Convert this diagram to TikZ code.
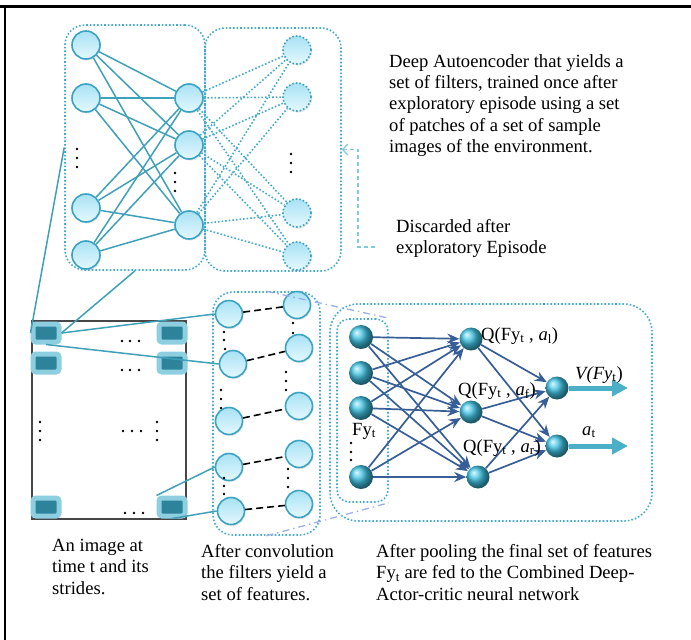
\documentclass[tikz,border=0pt]{standalone}
\usepackage{fontspec}
\setmainfont{Liberation Serif}
\usepackage{tikz}
\usetikzlibrary{positioning}
\usetikzlibrary{arrows.meta}
\usetikzlibrary{shadows}

\definecolor{netline}{HTML}{3FA0BA}
\definecolor{boxdot}{HTML}{45ABCD}
\definecolor{nodeedge}{HTML}{3AA3C2}
\definecolor{nodetop}{HTML}{A8E2F4}
\definecolor{nodebot}{HTML}{E4F8FE}
\definecolor{patchout}{HTML}{8DCFE1}
\definecolor{patchin}{HTML}{2D8399}
\definecolor{ballc}{HTML}{40C4E4}
\definecolor{acline}{HTML}{375E97}
\definecolor{outarrow}{HTML}{4BAFC8}
\definecolor{persp}{HTML}{9AAEEA}
\definecolor{discline}{HTML}{80C9DE}

\tikzset{
  neuron/.style={draw=nodeedge, circle, line width=1.6pt, top color=nodetop, bottom color=nodebot,
    minimum size=28pt, inner sep=0pt, drop shadow={opacity=0.2, shadow xshift=1pt, shadow yshift=-1.5pt}},
  ghost/.style={neuron, dotted},
  featnode/.style={neuron, minimum size=27pt},
  ball/.style={circle, shading=ball, ball color=ballc, minimum size=24pt, inner sep=0pt},
  patch/.style={draw=patchout, line width=5pt, fill=patchin, rounded corners=3pt,
    minimum width=26pt, minimum height=18pt, inner sep=0pt},
  dotbox/.style={draw=boxdot, dotted, line width=1.6pt, rounded corners=20pt, inner sep=0pt},
  encedge/.style={draw=netline, line width=1.5pt},
  encdot/.style={draw=boxdot, dotted, line width=1.6pt},
  acedge/.style={draw=acline, line width=1.7pt, -{Stealth[length=12pt, width=10pt]}},
  txt/.style={font=\fontsize{18.6}{21.4}\selectfont, inner sep=0pt, align=left}
}

\begin{document}
\begin{tikzpicture}[x=1pt, y=-1pt]
		\useasboundingbox (0,0) rectangle (691,640);
		\draw[line width=3pt] (0,6) -- (691,6);
		\draw[line width=2.5pt] (5,6) -- (5,640);

		% autoencoder
		\node[dotbox, minimum width=140pt, minimum height=245pt] (encL) at (135,147.5) {};
		\node[dotbox, minimum width=136pt, minimum height=243pt] (encR) at (273,149.5) {};

		\node[neuron] (x1) at (86, 45) {};
		\node[neuron] (x2) at (86, 98) {};
		\node[neuron] (x3) at (86, 208) {};
		\node[neuron] (x4) at (86, 255) {};
		\node[neuron] (h1) at (189, 98) {};
		\node[neuron] (h2) at (189, 145) {};
		\node[neuron] (h3) at (189, 225) {};
		\node[ghost] (y1) at (297, 50) {};
		\node[ghost] (y2) at (297, 97) {};
		\node[ghost] (y3) at (297, 213) {};
		\node[ghost] (y4) at (297, 256) {};

		\foreach \i in {1,...,4}
			\foreach \j in {1,2,3}
				\path[encedge] (x\i) -- (h\j);
		\foreach \i in {1,2,3}
			\foreach \j in {1,...,4}
				\path[encdot] (h\i) -- (y\j);

		\foreach \x/\y in {77/149, 77/158, 77/167, 175/173, 175/182, 175/191, 291/154, 291/163, 291/172}
			\fill (\x,\y) circle (1.4pt);

		\node[txt, anchor=north west] (enctext) at (389, 54) {Deep Autoencoder that yields a\\ set of filters, trained once after\\ exploratory episode using a set\\ of patches of a set of sample\\ images of the environment.};
		\node[txt, anchor=north west] (disctext) at (396, 219) {Discarded after\\ exploratory Episode};
		\coordinate (dA) at (375, 247);
		\path[draw=discline, line width=1.3pt, dash pattern=on 4pt off 3pt, -{Straight Barb[length=5pt, width=11pt]}]
			(dA) -- ++(-17,0) |- (encR.east);

		% image and strides
		\node[draw=black!72, line width=2.5pt, minimum width=154pt, minimum height=198pt, inner sep=0pt] (img) at (109,420) {};
		\node[patch] (p11) at (46, 333) {};
		\node[patch] (p12) at (172, 333) {};
		\node[patch] (p21) at (46, 363) {};
		\node[patch] (p22) at (172, 363) {};
		\node[patch] (p31) at (46, 507) {};
		\node[patch] (p32) at (172, 507) {};

		\foreach \x/\y in {122/341, 130/341, 139/341, 122/370, 130/370, 139/370, 123/431, 132/431, 141/431,
			125/513, 134/513, 143/513, 40/422, 40/431, 40/440, 157/422, 157/431, 157/440}
			\fill (\x,\y) circle (1.4pt);

		% feature maps
		\node[dotbox, minimum width=107pt, minimum height=243pt] (feat) at (266.5,413.5) {};
		\node[featnode] (f1) at (229, 314) {};
		\node[featnode] (f2) at (233, 364) {};
		\node[featnode] (f3) at (229, 421) {};
		\node[featnode] (f4) at (229, 467) {};
		\node[featnode] (f5) at (231, 511) {};
		\node[featnode] (g1) at (297, 305) {};
		\node[featnode] (g2) at (299, 348) {};
		\node[featnode] (g3) at (299, 406) {};
		\node[featnode] (g4) at (299, 454) {};
		\node[featnode] (g5) at (299, 504) {};
		\foreach \i in {1,...,5}
			\path[draw, line width=1.6pt, dash pattern=on 7pt off 4pt] (f\i) -- (g\i);
		\foreach \x/\y in {224/332, 224/340, 225/349, 221/390, 221/399, 221/408, 224/478, 224/486, 224/494,
			293/323, 293/333, 286/372, 286/381, 286/390, 288/469, 288/478, 288/487}
			\fill (\x,\y) circle (1.3pt);

		\path[encedge] (p11.west) -- (encL.west);
		\path[encedge] (p11.east) -- (encL.south);
		\path[encedge] (p11.east) -- (f1.west);
		\path[encedge] (p11.south) -- (f2.west);
		\path[encedge] (p32.north west) -- (f4.west);
		\path[encedge] (p32.south) -- (f5.west);

		% actor-critic network
		\node[dotbox, rounded corners=28pt, minimum width=322pt, minimum height=217pt] (ac) at (491,412.5) {};
		\node[dotbox, rounded corners=12pt, minimum width=51pt, minimum height=183pt] (fy) at (362.5,410.5) {};
		\path[draw=persp, line width=1.3pt, dash pattern=on 7pt off 4pt on 1.5pt off 4pt] (feat.north) -- (fy.north east);
		\path[draw=persp, line width=1.3pt, dash pattern=on 7pt off 4pt on 1.5pt off 4pt] (feat.south) -- (fy.south east);

		\node[ball] (b1) at (361, 337) {};
		\node[ball] (b2) at (361, 373) {};
		\node[ball] (b3) at (361, 408) {};
		\node[ball] (b4) at (361, 477) {};
		\node[ball, minimum size=23pt] (q1) at (471, 339) {};
		\node[ball, minimum size=23pt] (q2) at (471, 412) {};
		\node[ball, minimum size=23pt] (q3) at (478, 477) {};
		\node[ball, minimum size=23pt] (v1) at (557, 388) {};
		\node[ball, minimum size=23pt] (v2) at (557, 446) {};

		\foreach \i in {1,...,4}
			\foreach \j in {1,2,3}
				\path[acedge] (b\i) -- (q\j);
		\foreach \i in {1,2,3}
			\foreach \j in {1,2}
				\path[acedge] (q\i) -- (v\j);

		\coordinate (vout) at (628, 388);
		\coordinate (aout) at (628, 446);
		\path[draw=outarrow, line width=5pt, -{Triangle[length=16pt, width=16pt]}] (v1) -- (vout);
		\path[draw=outarrow, line width=5pt, -{Triangle[length=16pt, width=16pt]}] (v2) -- (aout);

		\foreach \x/\y in {351/443, 351/452, 351/460}
			\fill (\x,\y) circle (1.4pt);

		\node[txt, anchor=base west] (fylab) at (352, 435) {Fy\textsubscript{t}};
		\node[txt, anchor=base west] (q1lab) at (481, 340) {Q(Fy\textsubscript{t} , \textit{a}\textsubscript{l})};
		\node[txt, anchor=base west] (q2lab) at (458, 395) {Q(Fy\textsubscript{t} , \textit{a}\textsubscript{f})};
		\node[txt, anchor=base west] (q3lab) at (463, 452) {Q(Fy\textsubscript{t} , \textit{a}\textsubscript{r})};
		\node[txt, anchor=base west] (vlab) at (575, 379) {\textit{V(Fy}\textsubscript{t})};
		\node[txt, anchor=base west] (alab) at (582, 435) {\textit{a}\textsubscript{t}};

		% captions
		\node[txt, anchor=north west] (cap1) at (52, 539) {An image at\\ time t and its\\ strides.};
		\node[txt, anchor=north west] (cap2) at (201, 544) {After convolution\\ the filters yield a\\ set of features.};
		\node[txt, anchor=north west] (cap3) at (376, 544) {After pooling the final set of features\\ Fy\textsubscript{t} are fed to the Combined Deep-\\ Actor-critic neural network};
    \end{tikzpicture}
\end{document}
